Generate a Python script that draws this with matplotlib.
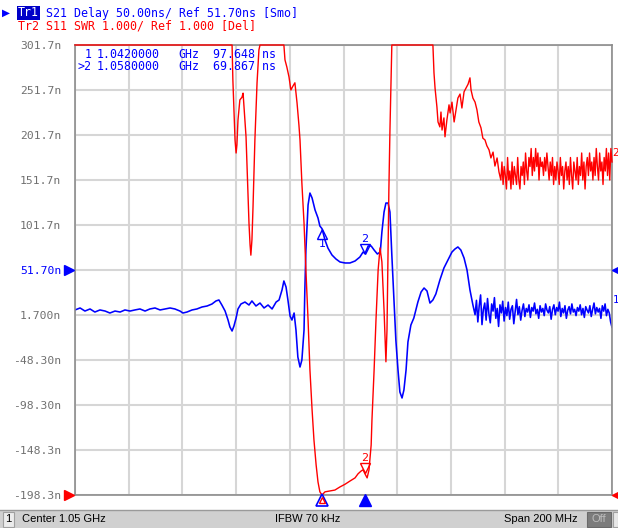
import numpy as np
import matplotlib.pyplot as plt
from matplotlib import transforms
from matplotlib.patches import Rectangle

# ---- data (frequency in MHz) ----
# Trace 1: S21 group delay, ns
blue_f = [950.0, 951.9, 953.7, 955.6, 957.4, 959.3, 961.2, 963.0, 964.9, 966.8,
          968.6, 970.5, 972.3, 974.2, 976.1, 977.9, 979.8, 981.7, 983.5, 985.4,
          987.2, 989.1, 990.2, 991.7, 993.6, 995.4, 997.3, 999.2, 1001.0, 1002.5,
          1003.6, 1004.7, 1005.9, 1007.0, 1007.7, 1008.5, 1009.2, 1010.0, 1010.7, 1011.8,
          1013.3, 1014.8, 1015.9, 1017.4, 1018.9, 1020.4, 1021.9, 1023.4, 1024.9, 1026.0,
          1027.1, 1027.8, 1028.6, 1029.3, 1030.1, 1030.8, 1031.6, 1032.3, 1033.0, 1033.8,
          1034.5, 1035.3, 1035.6, 1036.0, 1036.8, 1037.5, 1038.3, 1039.4, 1040.5, 1041.2,
          1042.0, 1043.1, 1044.2, 1045.7, 1047.2, 1048.7, 1050.6, 1052.4, 1054.3, 1056.1,
          1057.3, 1058.0, 1059.2, 1060.3, 1061.4, 1062.6, 1063.7, 1064.3, 1065.1, 1065.8,
          1066.6, 1067.3, 1068.0, 1068.8, 1069.5, 1070.3, 1071.0, 1071.8, 1072.5, 1073.3,
          1074.0, 1075.1, 1076.2, 1077.7, 1078.9, 1080.0, 1081.1, 1082.2, 1083.3, 1084.4,
          1085.9, 1087.4, 1088.9, 1090.4, 1091.5, 1092.6, 1093.7, 1094.9, 1096.0, 1097.1,
          1098.2]
blue_ns = [7.3, 9.5, 6.1, 8.4, 5.0, 7.3, 6.1, 3.9, 6.1, 5.0,
           7.3, 6.1, 7.3, 8.4, 6.1, 8.4, 9.5, 7.3, 8.4, 9.5,
           8.4, 6.1, 3.9, 5.0, 7.3, 8.4, 10.6, 11.7, 13.9, 17.3,
           18.4, 12.8, 6.1, -3.9, -11.6, -16.1, -10.5, -1.6, 8.4, 13.9,
           16.1, 12.8, 17.3, 11.7, 15.0, 9.5, 12.8, 8.4, 16.1, 18.4,
           29.5, 39.5, 32.8, 18.4, 0.6, -3.9, 3.9, -15.0, -45.0, -56.1,
           -48.3, -15.0, 29.5, 73.9, 123.9, 137.2, 131.7, 118.4, 109.5, 100.6,
           97.6, 85.0, 76.1, 68.4, 63.9, 60.6, 59.5, 59.5, 61.7, 66.1,
           71.7, 69.9, 78.4, 78.4, 73.9, 69.5, 71.7, 93.9, 116.1, 126.1,
           126.1, 116.1, 68.4, 18.4, -26.1, -59.4, -83.9, -90.5, -81.6, -59.4,
           -28.3, -9.4, -1.6, 16.1, 27.3, 31.7, 28.4, 15.0, 18.4, 25.1,
           40.6, 53.9, 62.8, 71.7, 75.0, 77.3, 73.9, 65.0, 51.7, 29.5,
           12.8]
# noisy tail of trace 1, 1099 .. 1150 MHz
blue_tail_ns = [2, 18, -6, 12, 24, -9, 8, 15, -4, 20, 3, -7, 14, 6, 21, -2, 9, -11, 13, 4,
                17, -5, 10, 1, 16, -3, 8, 12, -8, 6, 19, 2, 11, -4, 7, 14, 0, 9, 5, 13,
                -1, 10, 6, 15, 3, 8, -2, 12, 5, 9, 1, 14, 7, 4, 11, -3, 8, 13, 2, 10,
                6, 16, 0, 9, 4, 12, -2, 7, 11, 3, 14, 5, 8, 1, 10, 6, 13, 2, 9, -1,
                11, 7, 4, 12, 0, 8, 15, 3, 10, 5, 9, -2, 12, 6, 14, 1, 8, 4, -6, -12]

# Trace 2: S11 SWR (11 = clipped at top of screen)
red_f = [950.0, 1008.5, 1008.8, 1009.2, 1009.6, 1010.0, 1010.3, 1010.7, 1011.4, 1012.2,
         1012.6, 1012.9, 1013.7, 1014.4, 1014.8, 1015.2, 1015.5, 1015.9, 1016.3, 1017.0,
         1017.8, 1018.5, 1018.9, 1027.8, 1028.2, 1028.9, 1029.7, 1030.4, 1031.2, 1031.9,
         1032.7, 1033.4, 1033.8, 1034.5, 1035.3, 1036.0, 1036.8, 1037.5, 1038.3, 1039.0,
         1039.8, 1040.5, 1041.2, 1042.0, 1043.1, 1045.0, 1046.8, 1048.7, 1050.6, 1052.4,
         1054.3, 1055.4, 1056.5, 1057.3, 1058.0, 1058.8, 1059.5, 1060.3, 1060.6, 1061.4,
         1062.1, 1062.9, 1063.6, 1064.3, 1065.1, 1065.8, 1066.2, 1066.6, 1066.9, 1067.3,
         1067.7, 1068.0, 1083.3, 1083.7, 1084.1, 1084.8, 1085.2, 1085.9, 1086.3, 1086.7,
         1087.4, 1087.8, 1088.5, 1089.3, 1089.7, 1090.4, 1091.2, 1091.9, 1092.6, 1093.4,
         1094.1, 1094.9, 1095.6, 1096.4, 1097.1, 1097.5, 1098.2, 1099.0, 1099.7, 1100.4,
         1101.2, 1101.9, 1102.7, 1103.4, 1104.2, 1104.9, 1105.7, 1106.4, 1107.2, 1107.9]
red_swr = [11.0, 11.0, 10.22, 9.56, 8.89, 8.60, 8.78, 9.33, 9.78, 9.84,
           9.93, 9.67, 8.96, 7.78, 7.04, 6.56, 6.33, 6.67, 7.40, 8.89,
           10.16, 10.89, 11.0, 11.0, 10.67, 10.51, 10.29, 10.0, 10.09, 10.16,
           9.71, 9.22, 8.89, 7.93, 7.04, 6.0, 4.89, 3.78, 2.89, 2.22,
           1.67, 1.29, 1.07, 1.0, 1.07, 1.09, 1.11, 1.18, 1.24, 1.31,
           1.38, 1.47, 1.53, 1.56, 1.47, 1.38, 1.56, 2.11, 2.67, 3.78,
           4.89, 6.0, 6.49, 6.18, 5.11, 3.96, 4.67, 6.44, 7.78, 9.11,
           10.22, 11.0, 11.0, 10.38, 10.04, 9.62, 9.29, 9.18, 9.51, 9.11,
           9.38, 8.96, 9.33, 9.67, 9.49, 9.73, 9.29, 9.56, 9.82, 9.91,
           9.60, 9.96, 10.04, 10.13, 10.27, 10.0, 9.82, 9.73, 9.56, 9.29,
           9.16, 8.93, 8.89, 8.76, 8.67, 8.49, 8.62, 8.31, 8.49, 8.18]
# noisy tail of trace 2, 1108.6 .. 1150 MHz
red_tail_swr = [8.0, 8.4, 7.9, 8.3, 8.1, 7.8, 8.5, 8.0, 8.2, 7.8, 8.4, 7.9, 8.3, 8.1, 7.9, 8.5, 8.0, 7.8, 8.3, 8.1,
                8.4, 7.9, 8.6, 8.2, 8.0, 8.5, 8.3, 8.7, 8.1, 8.5, 8.2, 8.7, 8.3, 8.6, 8.0, 8.5, 8.3, 8.4, 8.1, 8.5,
                8.2, 8.6, 8.3, 8.0, 8.4, 8.1, 8.5, 7.9, 8.3, 8.0, 8.4, 8.2, 7.9, 8.5, 8.1, 8.3, 7.8, 8.2, 8.4, 8.0,
                8.3, 7.9, 8.5, 8.1, 7.8, 8.4, 8.2, 8.0, 8.5, 7.9, 8.3, 8.1, 8.6, 8.0, 8.4, 7.8, 8.3, 8.5, 8.1, 8.6,
                8.2, 8.4, 8.0, 8.5, 8.1, 8.7, 8.3, 8.0, 8.6, 8.2, 8.4, 7.9, 8.5, 8.2, 8.7, 8.1, 8.6, 8.0, 8.7, 8.4]

marker_f = [1042.0, 1058.0]
marker_delay = [97.648, 69.867]
marker_swr = [1.0, 1.47]

ytick_vals = [-198.3, -148.3, -98.3, -48.3, 1.7, 51.7, 101.7, 151.7, 201.7, 251.7, 301.7]
ytick_labels = ['-198.3n', '-148.3n', '-98.30n', '-48.30n', '1.700n', '51.70n',
                '101.7n', '151.7n', '201.7n', '251.7n', '301.7n']

BLUE = '#0000ff'
RED = '#ff0000'
MONO = 'DejaVu Sans Mono'

blue_x = np.concatenate([blue_f, np.linspace(1099.0, 1150.0, len(blue_tail_ns))])
blue_y = np.concatenate([blue_ns, blue_tail_ns])
red_x = np.concatenate([red_f, np.linspace(1108.6, 1150.0, len(red_tail_swr))])
red_y = np.concatenate([red_swr, red_tail_swr])

W, H = 618, 528
fig = plt.figure(figsize=(W / 100, H / 100), dpi=100)
fig.patch.set_facecolor('white')


def fx(p):
    return p / W


def fy(p):
    return 1 - p / H


ax = fig.add_axes([fx(75), fy(495), 537 / W, 450 / H])
ax.set_xlim(950, 1150)
ax.set_ylim(-198.3, 301.7)
ax.set_xticks(np.arange(950, 1151, 20))
ax.set_yticks(ytick_vals)
ax.set_yticklabels(ytick_labels, family=MONO, fontsize=8.2, color='#707070')
ax.get_yticklabels()[5].set_color(BLUE)
ax.tick_params(length=0, labelbottom=False, pad=10)
ax.grid(color='#d6d6d6', linewidth=1.5)
ax.set_axisbelow(True)
for s in ax.spines.values():
    s.set_color('#8c8c8c')
    s.set_linewidth(1.2)

ax2 = ax.twinx()
ax2.set_ylim(1, 11)
ax2.axis('off')

ax.plot(blue_x, blue_y, color=BLUE, lw=1.15)
ax2.plot(red_x, red_y, color=RED, lw=1.0, clip_on=False)


def off(tr, dy):
    return transforms.offset_copy(tr, fig=fig, x=0, y=dy, units='dots')


# markers on trace 1
ax2.plot(marker_f[0], marker_delay[0], marker='^', ms=7, mfc='none', mec=BLUE, mew=1,
         transform=off(ax.transData, -5))
ax2.text(marker_f[0], marker_delay[0], '1', color=BLUE, fontsize=8, ha='center', va='center',
         transform=off(ax.transData, -15))
ax2.plot(marker_f[1], marker_delay[1], marker='v', ms=7, mfc='none', mec=BLUE, mew=1,
         transform=off(ax.transData, 5))
ax2.text(marker_f[1], marker_delay[1], '2', color=BLUE, fontsize=8, ha='center', va='center',
         transform=off(ax.transData, 15))
# markers on trace 2
ax2.plot(marker_f[1], marker_swr[1], marker='v', ms=7, mfc='none', mec=RED, mew=1,
         transform=off(ax2.transData, 6), clip_on=False)
ax2.text(marker_f[1], marker_swr[1], '2', color=RED, fontsize=8, ha='center', va='center',
         transform=off(ax2.transData, 16))

# marker indicators under the grid
bot = transforms.blended_transform_factory(ax.transData, ax.transAxes)
ax2.plot(marker_f[0], -0.011, marker='^', ms=9, mfc='white', mec=BLUE, mew=1.2,
         transform=bot, clip_on=False)
ax2.plot(marker_f[0], -0.011, marker='^', ms=4, mfc='none', mec=RED, mew=1,
         transform=bot, clip_on=False)
ax2.plot(marker_f[1], -0.011, marker='^', ms=9, color=BLUE, transform=bot, clip_on=False)

# reference position arrows
lft = transforms.blended_transform_factory(ax.transAxes, ax.transData)
lft2 = transforms.blended_transform_factory(ax.transAxes, ax2.transData)
ax2.plot(-0.011, 51.7, marker='>', ms=7, color=BLUE, transform=lft, clip_on=False)
ax2.plot(1.007, 51.7, marker='<', ms=6, color=BLUE, transform=lft, clip_on=False)
ax2.plot(-0.011, 1.0, marker='>', ms=7, color=RED, transform=lft2, clip_on=False)
ax2.plot(1.007, 1.0, marker='<', ms=6, color=RED, transform=lft2, clip_on=False)
ax2.text(1.001, 18.4, '1', color=BLUE, fontsize=7.5, va='center', transform=lft)
ax2.text(1.001, 8.6, '2', color=RED, fontsize=7.5, va='center', transform=lft2)

# header
fig.text(fx(2), fy(13), '\u25b6', color=BLUE, fontsize=7.5, va='center')
fig.text(fx(18), fy(13), 'Tr1', family=MONO, fontsize=8.4, color='white', va='center',
         bbox=dict(facecolor='#0000c8', edgecolor='none', pad=0.6))
fig.text(fx(46), fy(13), 'S21 Delay 50.00ns/ Ref 51.70ns [Smo]', family=MONO,
         fontsize=8.4, color=BLUE, va='center')
fig.text(fx(18), fy(26), 'Tr2 S11 SWR 1.000/ Ref 1.000 [Del]', family=MONO,
         fontsize=8.4, color=RED, va='center')

# marker table
for row, (tag, f, v) in enumerate(zip([' 1', '>2'], marker_f, marker_delay)):
    yy = fy(55 + 12 * row)
    fig.text(fx(78), yy, tag, family=MONO, fontsize=8.4, color=BLUE, va='center')
    fig.text(fx(97), yy, f'{f / 1000:.7f}', family=MONO, fontsize=8.4, color=BLUE, va='center')
    fig.text(fx(178), yy, 'GHz', family=MONO, fontsize=8.4, color=BLUE, va='center')
    fig.text(fx(213), yy, f'{v:.3f} ns', family=MONO, fontsize=8.4, color=BLUE, va='center')

# status bar
fig.add_artist(Rectangle((0, 0), 1, fy(510), transform=fig.transFigure,
                         facecolor='#d0d0d0', edgecolor='none'))
fig.add_artist(plt.Line2D([0, 1], [fy(509.5), fy(509.5)], transform=fig.transFigure,
                          color='#9a9a9a', lw=1))
fig.add_artist(Rectangle((fx(3), fy(527)), 11 / W, 15 / H, transform=fig.transFigure,
                         facecolor='#ececec', edgecolor='#a0a0a0', lw=0.8))
fig.text(fx(8.5), fy(519.5), '1', fontsize=8, family='Liberation Sans', ha='center', va='center')
fig.text(fx(22), fy(519.5), 'Center 1.05 GHz', fontsize=8, family='Liberation Sans', va='center')
fig.text(fx(308), fy(519.5), 'IFBW 70 kHz', fontsize=8, family='Liberation Sans',
         ha='center', va='center')
fig.text(fx(578), fy(519.5), 'Span 200 MHz', fontsize=8, family='Liberation Sans',
         ha='right', va='center')
fig.add_artist(Rectangle((fx(587), fy(527)), 24 / W, 15 / H, transform=fig.transFigure,
                         facecolor='#7c7c7c', edgecolor='#6a6a6a', lw=0.8))
fig.text(fx(599), fy(519.5), 'Off', fontsize=8, family='Liberation Sans', color='#bdbdbd',
         ha='center', va='center')
fig.add_artist(Rectangle((fx(613), fy(527)), 5 / W, 15 / H, transform=fig.transFigure,
                         facecolor='#e8e8e8', edgecolor='#a0a0a0', lw=0.8))

fig.savefig('out.png', dpi=100)
